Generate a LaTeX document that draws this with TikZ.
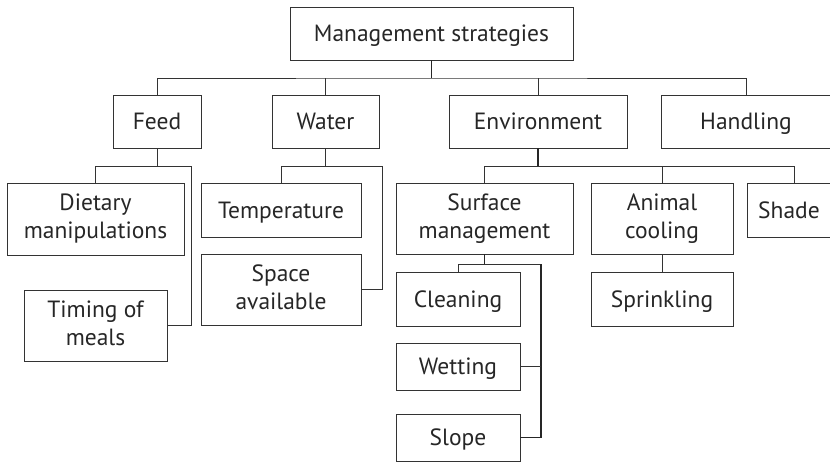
\documentclass[tikz,border=0pt]{standalone}
\usepackage{fontspec}
\setmainfont{PT Sans}
\newcommand\boxstrut{\rule[-5.5pt]{0pt}{27.5pt}}
\begin{document}
\begin{tikzpicture}[x=1pt,y=-1pt,
    box/.style={rectangle,draw=black!80,line width=0.8pt,inner sep=2pt,
      align=center,text=black!85,font=\fontsize{23.5}{28}\selectfont,
      execute at begin node=\boxstrut,execute at end node=\boxstrut},
    link/.style={draw=black!80,line width=0.8pt},
    trunk/.style={draw=black!85,line width=1.1pt}]
  \clip (0,0) rectangle (830,462);
  \node[box,minimum width=283,minimum height=53] (root) at (431.5,33.5) {Management strategies};
  \node[box,minimum width=88,minimum height=53] (feed) at (157,121.5) {Feed};
  \node[box,minimum width=107,minimum height=53] (water) at (325.5,121.5) {Water};
  \node[box,minimum width=178,minimum height=53] (env) at (538,121.5) {Environment};
  \node[box,minimum width=170,minimum height=53] (hand) at (746,121.5) {Handling};
  \node[box,minimum width=177,minimum height=72] (diet) at (95.5,219) {Dietary\\manipulations};
  \node[box,minimum width=143,minimum height=71] (timing) at (95.5,325.5) {Timing of\\meals};
  \node[box,minimum width=160,minimum height=54] (temp) at (281,210) {Temperature};
  \node[box,minimum width=160,minimum height=71] (space) at (281,289.5) {Space\\available};
  \node[box,minimum width=177,minimum height=71] (surf) at (484.5,218.5) {Surface\\management};
  \node[box,minimum width=142,minimum height=71] (anim) at (662,218.5) {Animal\\cooling};
  \node[box,minimum width=84,minimum height=54] (shade) at (789,210) {Shade};
  \node[box,minimum width=124,minimum height=54] (clean) at (458,299) {Cleaning};
  \node[box,minimum width=124,minimum height=47] (wet) at (458,366.5) {Wetting};
  \node[box,minimum width=124,minimum height=47] (slope) at (458,437.5) {Slope};
  \node[box,minimum width=142,minimum height=54] (sprink) at (662,299) {Sprinkling};
  \coordinate (bus) at (431.5,78);
  \coordinate (fr) at (191,166);
  \coordinate (wr) at (382,166);
  \coordinate (er) at (794,166);
  \coordinate (sr) at (541,264);
  \draw[trunk] (root.south) -- (bus);
  \draw[link] (feed.north) |- (bus) -| (hand.north);
  \draw[link] (water.north) -- (water.north |- bus);
  \draw[link] (env.north) -- (env.north |- bus);
  \draw[link] (feed.south) -- (feed.south |- fr);
  \draw[link] (diet.north) |- (fr);
  \draw[link] (timing.east) -| (fr);
  \draw[link] (water.south) -- (water.south |- wr);
  \draw[link] (temp.north) |- (wr);
  \draw[link] (space.east) -| (wr);
  \draw[trunk] (env.south) -- (env.south |- er);
  \draw[link] (surf.north) |- (er) -- (er |- shade.north);
  \draw[link] (anim.north) -- (anim.north |- er);
  \draw[trunk] (surf.south) -- (surf.south |- sr);
  \draw[link] (clean.north) |- (sr);
  \draw[trunk] (slope.east) -| (sr);
  \draw[link] (wet.east) -- (wet.east -| sr);
  \draw[link] (anim.south) -- (sprink.north);
\end{tikzpicture}
\end{document}
